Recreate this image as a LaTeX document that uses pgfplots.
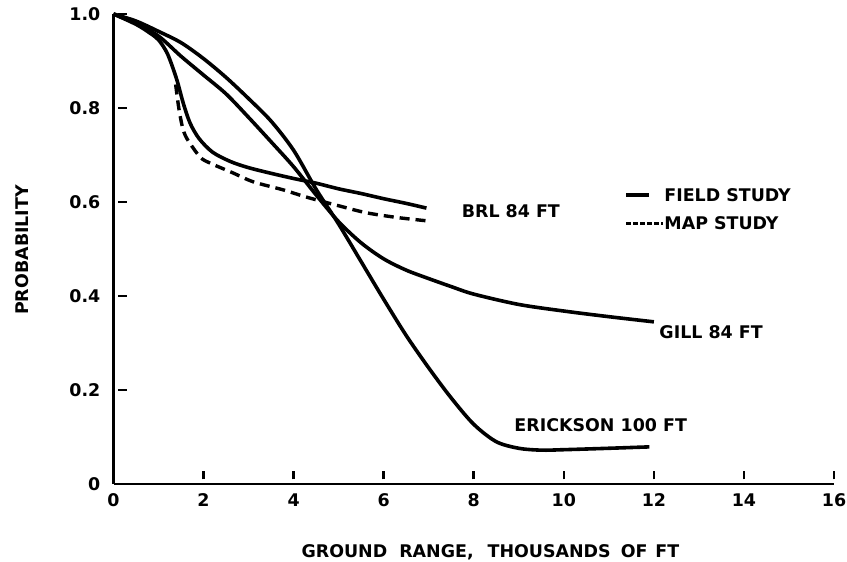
\documentclass[border=0pt]{standalone}
\usepackage{fontspec}
\setmainfont{DejaVu Sans}
\usepackage{pgfplots}
\pgfplotsset{compat=1.18}
\begin{document}
\fontsize{17.5}{20}\selectfont\bfseries
\begin{tikzpicture}
\useasboundingbox (0,0) rectangle (847bp,562bp);
\begin{axis}[
  at={(113.5bp,78bp)}, anchor=south west,
  scale only axis, width=720.5bp, height=470bp,
  xmin=0, xmax=16, ymin=0, ymax=1,
  axis x line*=bottom, axis y line*=left,
  axis line style={-, line width=2.8bp},
  tick align=inside,
  major tick length=9bp,
  xtick style={black, line width=2.6bp, yshift=4.5bp},
  ytick style={black, line width=2.6bp, xshift=4.5bp},
  xtick={0,2,4,6,8,10,12,14,16},
  xticklabels={0,2,4,6,8,10,12,14,16},
  ytick={0,0.2,0.4,0.6,0.8,1.0},
  yticklabels={0,0.2,0.4,0.6,0.8,1.0},
  xticklabel style={inner sep=0pt, anchor=center, yshift=-16bp},
  yticklabel style={inner sep=0pt, anchor=east, xshift=-13bp},
  clip=false,
]
% Erickson 100 ft
\addplot[black, line width=3.6bp, smooth] coordinates {
(0,1.0) (0.5,0.985) (1.0,0.963) (1.5,0.939) (2.0,0.905) (2.5,0.865) (3.0,0.82) (3.5,0.772) (4.0,0.71) (4.5,0.627) (5.0,0.553) (5.5,0.473) (6.0,0.393) (6.5,0.316) (7.0,0.247) (7.5,0.183) (8.0,0.127) (8.5,0.09) (9.0,0.076) (9.5,0.072) (10.0,0.073) (11.0,0.076) (11.9,0.079)
};
% Gill 84 ft
\addplot[black, line width=3.6bp, smooth] coordinates {
(0,1.0) (0.5,0.98) (1.0,0.953) (1.5,0.91) (2.0,0.87) (2.5,0.83) (3.0,0.78) (3.5,0.728) (4.0,0.675) (4.5,0.615) (5.0,0.558) (5.5,0.513) (6.0,0.479) (6.5,0.455) (7.0,0.437) (7.5,0.42) (8.0,0.404) (9.0,0.382) (10.0,0.368) (11.0,0.356) (12.0,0.345)
};
% BRL 84 ft field study
\addplot[black, line width=3.6bp, smooth] coordinates {
(0,1.0) (0.5,0.978) (0.8,0.96) (1.0,0.945) (1.2,0.915) (1.4,0.862) (1.55,0.81) (1.7,0.768) (1.9,0.735) (2.2,0.706) (2.6,0.686) (3.0,0.673) (3.5,0.661) (4.0,0.65) (4.5,0.64) (5.0,0.628) (5.5,0.618) (6.0,0.607) (6.5,0.597) (6.95,0.587)
};
% BRL 84 ft map study
\addplot[black, line width=3.4bp, smooth, dash pattern=on 10bp off 6bp] coordinates {
(1.38,0.85) (1.45,0.80) (1.53,0.76) (1.63,0.735) (1.92,0.696) (2.14,0.683) (2.65,0.662) (3.1,0.643) (3.76,0.626) (4.3,0.61) (5.0,0.592) (5.62,0.577) (6.3,0.567) (6.95,0.560)
};
% labels
\node[anchor=west, inner sep=0pt] at (axis cs:7.73,0.581) {BRL 84 FT};
\node[anchor=west, inner sep=0pt] at (axis cs:12.12,0.323) {GILL 84 FT};
\node[anchor=west, inner sep=0pt] at (axis cs:8.9,0.1255) {ERICKSON 100 FT};
\draw[line width=3.4bp] (axis cs:11.39,0.615) -- (axis cs:11.9,0.615);
\node[anchor=west, inner sep=0pt] at (axis cs:12.23,0.615) {FIELD STUDY};
\draw[line width=3.2bp, dash pattern=on 5bp off 2bp] (axis cs:11.39,0.555) -- (axis cs:12.2,0.555);
\node[anchor=west, inner sep=0pt] at (axis cs:12.23,0.555) {MAP STUDY};
\node[rotate=90, inner sep=0pt] at (axis cs:-2.03,0.498) {PROBABILITY};
\node[inner sep=0pt] at (axis cs:8.37,-0.145) {GROUND\hspace{12bp}RANGE,\hspace{14bp}THOUSANDS\hspace{10bp}OF\hspace{8bp}FT};
\end{axis}
\end{tikzpicture}
\end{document}
